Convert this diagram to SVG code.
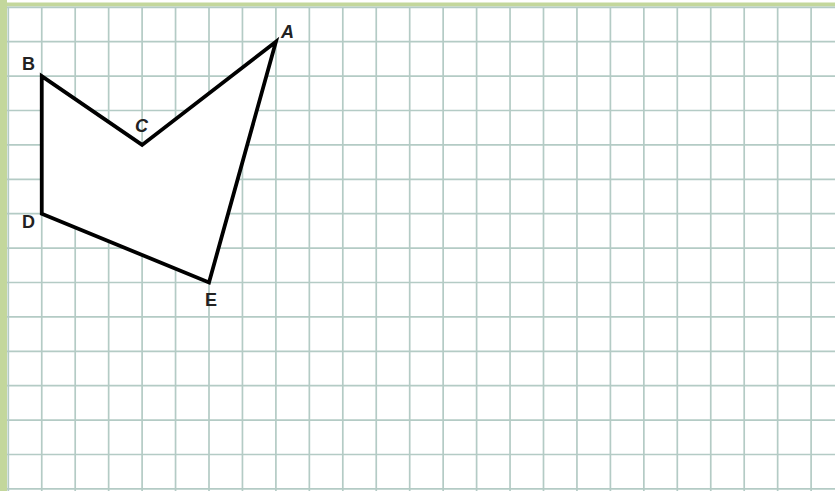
<svg xmlns="http://www.w3.org/2000/svg" width="835" height="491" viewBox="0 0 835 491">
<style>
.grid{stroke:#b4cbc5;stroke-width:1.7;fill:none}
.fig{stroke:#000;stroke-width:3.8;fill:#fff;stroke-linejoin:miter}
.lbl{font-family:"Liberation Sans",sans-serif;font-size:18px;font-weight:bold;fill:#222}
</style>
<rect width="835" height="491" fill="#fff"/>
<rect x="0" y="2.5" width="835" height="4" fill="#c3d79c"/>
<rect x="0" y="0" width="7" height="491" fill="#c3d79c"/>
<g id="grid">
<path class="grid" d="M8.3 7V491M41.75 7V491M75.2 7V491M108.65 7V491M142.1 7V491M175.55 7V491M209 7V491M242.45 7V491M275.9 7V491M309.35 7V491M342.8 7V491M376.25 7V491M409.7 7V491M443.15 7V491M476.6 7V491M510.05 7V491M543.5 7V491M576.95 7V491M610.4 7V491M643.85 7V491M677.3 7V491M710.75 7V491M744.2 7V491M777.65 7V491M811.1 7V491"/>
<path class="grid" d="M7 7.3H835M7 41.7H835M7 76.1H835M7 110.5H835M7 144.9H835M7 179.3H835M7 213.7H835M7 248.1H835M7 282.5H835M7 316.9H835M7 351.3H835M7 385.7H835M7 420.1H835M7 454.5H835M7 488.9H835"/>
</g>
<g id="figure">
<polygon class="fig" points="275.9,41.7 142.1,144.9 41.75,76.1 41.75,213.7 209,282.5"/>
</g>
<g id="label-A"><text class="lbl" x="281" y="38" font-style="italic" font-weight="normal">A</text></g>
<g id="label-B"><text class="lbl" x="22" y="70">B</text></g>
<g id="label-C"><text class="lbl" x="135" y="132" font-style="italic" font-weight="normal">C</text></g>
<g id="label-D"><text class="lbl" x="22" y="228">D</text></g>
<g id="label-E"><text class="lbl" x="205" y="306">E</text></g>
</svg>
